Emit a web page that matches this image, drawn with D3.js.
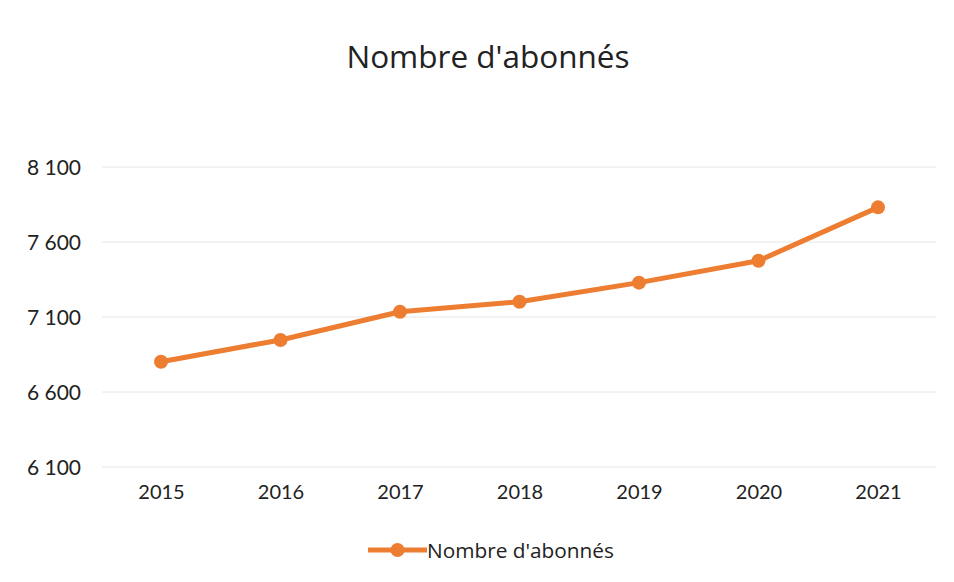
<!DOCTYPE html>
<html>
<head>
<meta charset="utf-8">
<script src="https://cdn.jsdelivr.net/npm/d3@7"></script>
<style>
  body { margin: 0; background: #fff; }
  text { font-family: Lato, "Open Sans", sans-serif; fill: #222; }
  .wide { font-family: "Open Sans", sans-serif; }
</style>
</head>
<body>
<svg id="chart" width="954" height="582"></svg>
<script>
// data
var years = ["2015", "2016", "2017", "2018", "2019", "2020", "2021"];
var subscribers = [6802, 6947, 7135, 7202, 7329, 7475, 7831];
var yTicks = [6100, 6600, 7100, 7600, 8100];
var seriesName = "Nombre d'abonnés";

var svg = d3.select("#chart");
var color = "#ED7D31";

var x = d3.scalePoint().domain(years).range([161, 878]);
var y = d3.scaleLinear().domain([6100, 8100]).range([467, 167]);

// space as thousands separator, like the french original
var fmt = function(v){ return d3.format(",")(v).replace(",", " "); };

// gridlines
svg.append("g")
    .selectAll("line")
    .data(yTicks)
    .join("line")
    .attr("x1", 102).attr("x2", 936)
    .attr("y1", function(d){ return y(d); })
    .attr("y2", function(d){ return y(d); })
    .style("stroke", "#e6e6e6")
    .style("stroke-width", 1);

// y labels
var yAxis = svg.append("g")
    .attr("transform", "translate(81,0)")
    .call(d3.axisLeft(y).tickValues(yTicks).tickFormat(fmt).tickSize(0).tickPadding(0));
yAxis.select(".domain").remove();
yAxis.selectAll("text")
    .style("font-size", "21px")
    .attr("dy", "0.36em");

// x labels
var xAxis = svg.append("g")
    .attr("transform", "translate(0,485)")
    .call(d3.axisBottom(x).tickSize(0).tickPadding(0));
xAxis.select(".domain").remove();
xAxis.selectAll("text")
    .style("font-size", "20px")
    .attr("dy", "0.71em");

// title
svg.append("text")
    .attr("class", "wide")
    .attr("x", 488).attr("y", 68)
    .attr("text-anchor", "middle")
    .style("font-size", "31.5px")
    .text(seriesName);

// series line
var line = d3.line()
    .x(function(d, i){ return x(years[i]); })
    .y(function(d){ return y(d); });

svg.append("path")
    .datum(subscribers)
    .attr("d", line)
    .style("fill", "none")
    .style("stroke", color)
    .style("stroke-width", 5)
    .style("stroke-linejoin", "round");

svg.append("g")
    .selectAll("circle")
    .data(subscribers)
    .join("circle")
    .attr("cx", function(d, i){ return x(years[i]); })
    .attr("cy", function(d){ return y(d); })
    .attr("r", 7)
    .style("fill", color);

// legend
var legend = svg.append("g").attr("transform", "translate(368,550)");
legend.append("line")
    .attr("x1", 0).attr("x2", 59)
    .style("stroke", color)
    .style("stroke-width", 5);
legend.append("circle")
    .attr("cx", 29.5).attr("r", 7)
    .style("fill", color);
legend.append("text")
    .attr("class", "wide")
    .attr("x", 59).attr("dy", "0.36em")
    .style("font-size", "20.8px")
    .text(seriesName);
</script>
</body>
</html>
